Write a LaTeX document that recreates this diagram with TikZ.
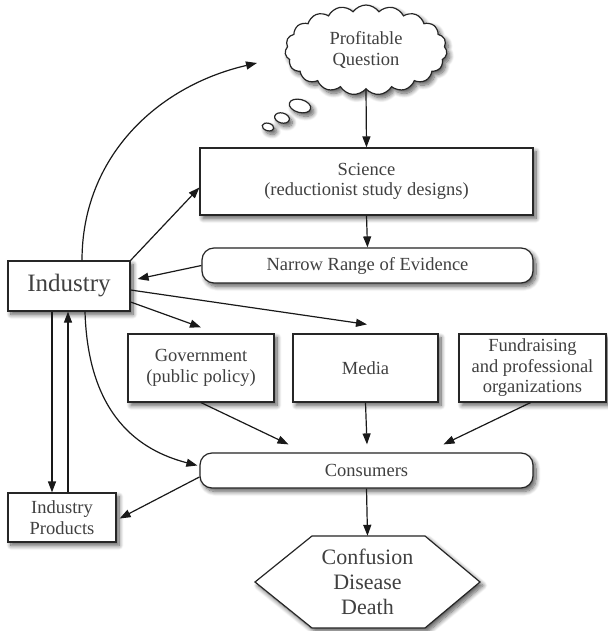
\documentclass[tikz,border=0pt]{standalone}
\usepackage{fontspec}
\setmainfont{Liberation Serif}
\usetikzlibrary{shapes.geometric,shapes.symbols,shadows.blur,arrows.meta}

\begin{document}
\begin{tikzpicture}[x=1pt,y=1pt,
  txt/.style={text=black!75, font=\fontsize{18.5}{20.5}\selectfont, align=center},
  sh/.style={blur shadow={shadow xshift=3pt,shadow yshift=-3.5pt,
      shadow blur radius=4.5pt,shadow blur steps=10,shadow opacity=65}},
  boxnode/.style={txt, draw=black!85, line width=1.2pt, fill=white, sh,
      rectangle, inner sep=0pt},
  pill/.style={boxnode, rounded corners=12pt},
  bubble/.style={ellipse, draw=black!85, line width=1.2pt, fill=white, sh,
      inner sep=0pt, rotate=-15},
  arr/.style={-{Triangle[length=11pt,width=8pt]}, line width=1.2pt, black!90},
]
\useasboundingbox (0,0) rectangle (607,-631);

% thought cloud with its trailing bubbles
\node[bubble, minimum width=12pt, minimum height=7.5pt] (b3) at (268,-127) {};
\node[bubble, minimum width=15pt, minimum height=10pt] (b2) at (282,-118) {};
\node[bubble, minimum width=22pt, minimum height=13pt] (b1) at (300,-106) {};
\node[txt, cloud, cloud puffs=19, cloud puff arc=110, aspect=1.8,
      draw=black!85, line width=1.2pt, fill=white, sh, inner sep=0pt,
      minimum width=162pt, minimum height=90pt] (question) at (366,-50)
      {Profitable\\Question};

% main boxes
\node[boxnode, minimum width=333pt, minimum height=67pt] (science) at (366.5,-181.5)
  {Science\\(reductionist study designs)};
\node[pill, minimum width=331pt, minimum height=35pt] (evidence) at (367.5,-265.5)
  {Narrow Range of Evidence};
\node[boxnode, minimum width=122pt, minimum height=50pt,
      font=\fontsize{25}{28}\selectfont] (industry) at (69,-286) {Industry};
\node[boxnode, minimum width=108pt, minimum height=49pt] (products) at (62,-517.5)
  {Industry\\Products};
\node[boxnode, minimum width=146pt, minimum height=68pt] (gov) at (201,-368)
  {Government\\(public policy)};
\node[boxnode, minimum width=145pt, minimum height=68pt] (media) at (365.5,-368)
  {Media};
\node[boxnode, minimum width=147pt, minimum height=68pt] (fund) at (532.5,-368)
  {Fundraising\\and professional\\organizations};
\node[pill, minimum width=333pt, minimum height=35pt] (consumers) at (366.5,-470.5)
  {Consumers};

% outcome hexagon
\path[draw=black!85, line width=1.2pt, fill=white, sh]
  (255,-582) -- (312,-536) -- (425,-536) -- (480,-582) -- (425,-628) -- (312,-628) -- cycle;
\node[txt, font=\fontsize{22}{25}\selectfont, minimum height=92pt, inner sep=0pt]
  (outcome) at (367.5,-582) {Confusion\\Disease\\Death};

\coordinate (qtip) at (257,-63);

% connectors
\draw[arr] ([xshift=13pt]industry.north) to[out=90,in=193] (qtip);
\draw[arr] (question.south) -- (science.north);
\draw[arr] (science.south) -- (evidence.north);
\draw[arr] (industry.north east) -- ([yshift=-6pt]science.west);
\draw[arr] (evidence.west) -- ([shift={(7pt,7pt)}]industry.east);
\draw[arr] ([yshift=-4pt]industry.east) -- ([shift={(1.5pt,9pt)}]media.north);
\draw[arr] ([yshift=-16pt]industry.east) -- ([yshift=6pt]gov.north);
\draw[arr] ([xshift=16pt]industry.south) .. controls +(3,-104) and +(-58,15) ..
  ([shift={(-2pt,5pt)}]consumers.west);
\draw[arr] ([xshift=-17pt]industry.south) -- ([xshift=-10pt]products.north);
\draw[arr] ([xshift=6pt]products.north) -- ([xshift=-1pt]industry.south);
\draw[arr] (gov.south) -- ([shift={(-78pt,8pt)}]consumers.north);
\draw[arr] (media.south) -- ([shift={(0.5pt,8pt)}]consumers.north);
\draw[arr] ([xshift=-2pt]fund.south) -- ([shift={(77pt,8pt)}]consumers.north);
\draw[arr] ([yshift=-6.5pt]consumers.west) -- ([xshift=3pt,yshift=-1pt]products.east);
\draw[arr] (consumers.south) -- (outcome.north);
\end{tikzpicture}
\end{document}
